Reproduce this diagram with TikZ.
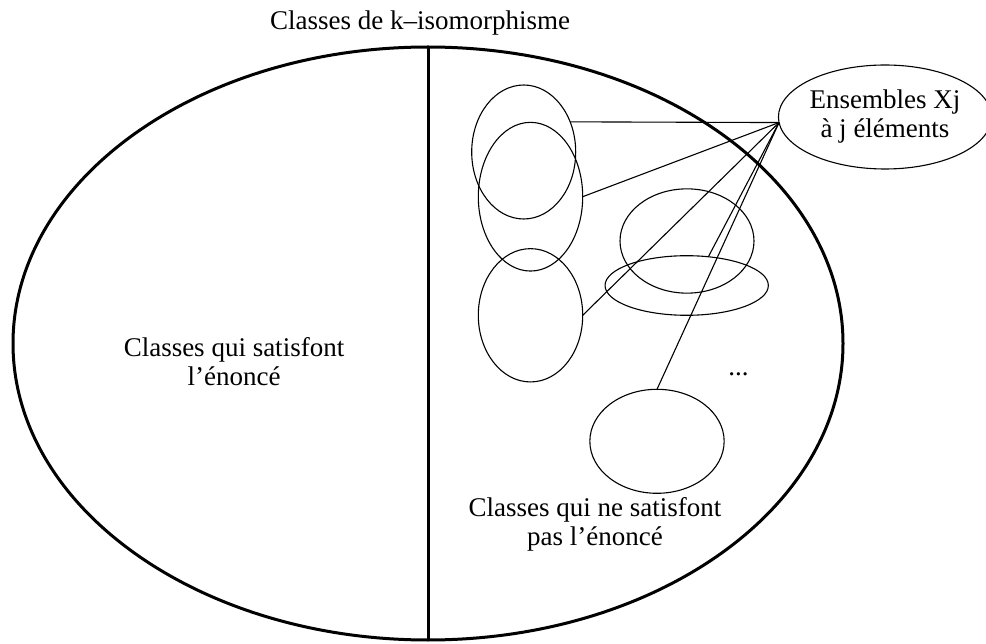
\documentclass[tikz,border=0pt]{standalone}
\usepackage{fontspec}
\setmainfont{Liberation Serif}
\usetikzlibrary{shapes.geometric}

\begin{document}
\begin{tikzpicture}[x=1pt, y=-1pt, font=\fontsize{27}{29}\selectfont,
    subset/.style={ellipse, draw, line width=1.1pt, inner sep=0pt, outer sep=0pt},
    txt/.style={align=center, inner sep=0pt}]
    \useasboundingbox (0,0) rectangle (986,644);
    % grande ellipse coupee en deux
    \node[ellipse, draw, line width=3pt, inner sep=0pt, outer sep=0pt,
          minimum width=830pt, minimum height=593pt] (classes) at (428,343.5) {};
    \draw[line width=3pt] (classes.north) -- (classes.south);
    \node[txt] (titre) at (420,22.8) {Classes de k--isomorphisme};
    \node[txt] (oui) at (234,362) {Classes qui satisfont\\l’énoncé};
    \node[txt] (non) at (595,524) {Classes qui ne satisfont\\pas l’énoncé};
    \node[inner sep=0pt, anchor=base] (dots) at (738.5,376) {...};
    % ensembles Xj
    \node[subset, minimum width=202pt, minimum height=104pt, align=center] (ens) at (885,117) {Ensembles Xj\\à j éléments};
    \node[subset, minimum width=104pt, minimum height=134pt] (e1) at (523.7,152) {};
    \node[subset, minimum width=104.4pt, minimum height=148.7pt] (e2) at (530.5,196.7) {};
    \node[subset, minimum width=104.4pt, minimum height=133.3pt] (e3) at (530.5,315.3) {};
    \node[subset, minimum width=134pt, minimum height=104.3pt] (e4) at (687,241) {};
    \node[subset, minimum width=163.3pt, minimum height=59.6pt] (e5) at (686.7,285.5) {};
    \node[subset, minimum width=134.3pt, minimum height=104pt] (e6) at (657,441.3) {};
    \draw[line width=1.1pt] (ens.183) -- (e1.33);
    \draw[line width=1.1pt] (ens.183) -- (e2.east);
    \draw[line width=1.1pt] (ens.183) -- (e3.east);
    \draw[line width=1.1pt] (ens.183) -- (e5.53);
    \draw[line width=1.1pt] (ens.183) -- (e6.north);
\end{tikzpicture}
\end{document}
